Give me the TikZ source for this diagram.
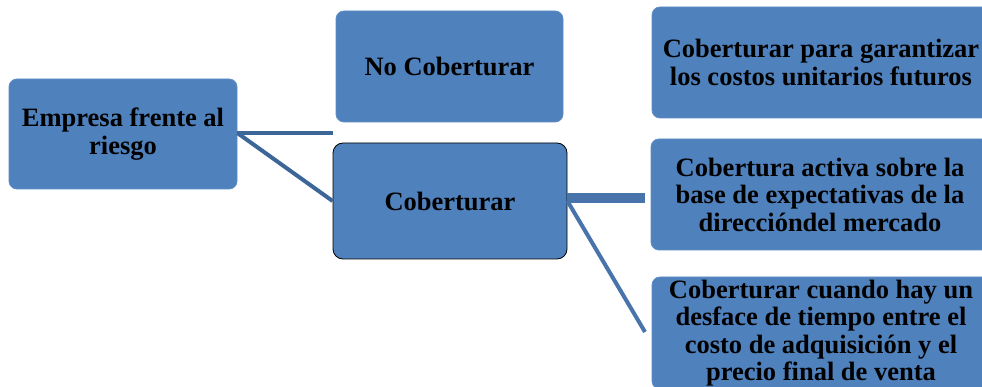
\documentclass[tikz,border=0pt]{standalone}
\usepackage{fontspec}
\setmainfont{Liberation Serif}
\begin{document}
\begin{tikzpicture}[x=1pt,y=-1pt,
  box/.style={rounded corners=8pt, fill=boxblue, draw=boxedge, line width=0.8pt,
    inner sep=0pt, align=center, font=\fontsize{26.5}{27.5}\selectfont\bfseries},
  link/.style={draw=linkdark, line width=4pt},
  linkright/.style={draw=linklight, line width=4pt}]
\definecolor{boxblue}{HTML}{4F81BD}
\definecolor{boxedge}{HTML}{5F8DC6}
\definecolor{linkdark}{HTML}{3C6697}
\definecolor{linklight}{HTML}{4874AB}
\useasboundingbox (0,0) rectangle (982,387);
\fill[white] (0,0) rectangle (982,387);

% first level
\node[box, minimum width=228pt, minimum height=110pt] (firm) at (123,134)
  {Empresa frente al\\riesgo};

% second level
\node[box, minimum width=227pt, minimum height=111pt] (nohedge) at (449.5,66.5)
  {No Coberturar};
\node[box, draw=black, rounded corners=10pt, minimum width=234pt, minimum height=116pt]
  (hedge) at (450,201) {Coberturar};

% third level (boxes run past the right edge)
\node[box, minimum width=338pt, minimum height=111pt] (costs) at (821,62.5)
  {Coberturar para garantizar\\los costos unitarios futuros};
\node[box, minimum width=338pt, minimum height=111pt] (active) at (820,194.5)
  {Cobertura activa sobre la\\base de expectativas de la\\direccióndel mercado};
\node[box, minimum width=338pt, minimum height=112pt] (lag) at (821,333)
  {Coberturar cuando hay un\\desface de tiempo entre el\\costo de adquisición y el\\precio final de venta};

% connector ends
\coordinate (nohedgeend) at (333,133);
\coordinate (activeend) at (645,198);
\coordinate (lagend) at (645,332);

% connectors
\draw[link] (firm.east |- 0,133) -- (nohedgeend);
\draw[link] (firm.east |- 0,133) -- (hedge.west);
\draw[linkright, line width=10pt] (hedge.east |- 0,198) -- (activeend);
\draw[linkright] (hedge.east) -- (lagend);
\end{tikzpicture}
\end{document}
